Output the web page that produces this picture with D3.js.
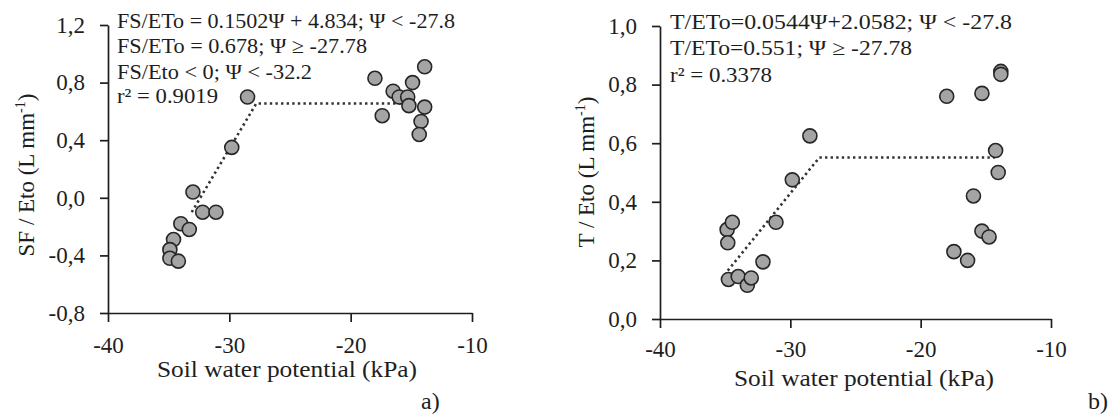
<!DOCTYPE html>
<html>
<head>
<meta charset="utf-8">
<script src="https://cdn.jsdelivr.net/npm/d3@7"></script>
<style>
  body { margin: 0; background: #fff; }
  svg text { font-family: "Liberation Serif", "Times New Roman", serif; fill: #1e1e1e; }
</style>
</head>
<body>
<svg id="chart" width="1116" height="414"></svg>
<script>
// panel a) SF / ETo
const psiA = [-28.5, -29.8, -33.0, -32.2, -31.1, -34.0, -33.3, -34.6, -34.9, -34.9, -34.2,
              -18.0, -17.4, -16.5, -16.0, -15.3, -15.2, -14.9, -13.9, -13.9, -14.2, -14.35];
const sfA  = [0.70, 0.35, 0.04, -0.10, -0.10, -0.18, -0.22, -0.29, -0.36, -0.42, -0.44,
              0.83, 0.57, 0.74, 0.70, 0.70, 0.64, 0.80, 0.91, 0.63, 0.53, 0.44];
const fitPsiA = [-33.1, -27.78, -15.7];
const fitA    = [-0.10, 0.655, 0.655];
const yTicksA = [-0.8, -0.4, 0.0, 0.4, 0.8, 1.2];
const notesA = ["FS/ETo = 0.1502\u03A8 + 4.834; \u03A8 < -27.8",
                "FS/ETo = 0.678; \u03A8 \u2265 -27.78",
                "FS/Eto < 0; \u03A8 < -32.2",
                "r\u00B2 = 0.9019"];

// panel b) T / ETo
const psiB = [-18.0, -15.3, -13.85, -13.85, -14.25, -14.05, -15.95, -15.3, -14.75, -17.45, -16.4,
              -28.5, -29.85, -31.1, -32.1, -34.85, -34.45, -34.8, -34.75, -34.0, -33.3, -33.0];
const tB   = [0.76, 0.77, 0.845, 0.835, 0.575, 0.50, 0.42, 0.30, 0.28, 0.23, 0.20,
              0.625, 0.475, 0.33, 0.195, 0.305, 0.33, 0.26, 0.135, 0.145, 0.115, 0.14];
const fitPsiB = [-34.8, -27.78, -14.3];
const fitB    = [0.165, 0.551, 0.551];
const yTicksB = [0.0, 0.2, 0.4, 0.6, 0.8, 1.0];
const notesB = ["T/ETo=0.0544\u03A8+2.0582; \u03A8 < -27.8",
                "T/ETo=0.551; \u03A8 \u2265 -27.78",
                "r\u00B2 = 0.3378"];

const xTicks = [-40, -30, -20, -10];

const svg = d3.select('#chart');
const fmt = v => d3.format('.1f')(v).replace('.', ',').replace('\u2212', '-');

function panel(opt) {
    const x = d3.scaleLinear().domain([-40, -10]).range([opt.x0, opt.x1]);
    const y = d3.scaleLinear().domain(opt.yDomain).range([opt.y0, opt.y1]);
    const g = svg.append('g');

    // fitted broken-line model
    const line = d3.line().x(d => x(d[0])).y(d => y(d[1]));
    g.append('path')
        .datum(opt.fitX.map((v, i) => [v, opt.fitY[i]]))
        .attr('d', line)
        .attr('fill', 'none')
        .attr('stroke', '#333')
        .attr('stroke-width', 2.6)
        .attr('stroke-dasharray', '2.4,3.2');

    g.selectAll('circle')
        .data(opt.px.map((v, i) => [v, opt.py[i]]))
        .enter()
        .append('circle')
        .attr('cx', d => x(d[0]))
        .attr('cy', d => y(d[1]))
        .attr('r', 7)
        .attr('fill', '#a4a4a4')
        .attr('stroke', '#262626')
        .attr('stroke-width', 1.6);

    const xAxis = g.append('g')
        .attr('transform', `translate(0,${opt.y0})`)
        .call(d3.axisBottom(x).tickValues(xTicks).tickSize(9).tickSizeOuter(0).tickPadding(14)
              .tickFormat(d => String(d)));
    const yAxis = g.append('g')
        .attr('transform', `translate(${opt.x0},0)`)
        .call(d3.axisLeft(y).tickValues(opt.yTicks).tickSize(8).tickSizeOuter(0).tickPadding(15)
              .tickFormat(fmt));
    [xAxis, yAxis].forEach(a => {
        a.selectAll('path, line').attr('stroke', '#1e1e1e').attr('stroke-width', 1.7);
        a.selectAll('text').attr('font-size', 23).attr('fill', '#1e1e1e')
            .style('font-family', '"Liberation Serif", serif');
    });
    xAxis.selectAll('text').attr('dy', null).attr('y', opt.tickBase);

    // axis titles
    g.append('text')
        .attr('x', opt.xlabX).attr('y', opt.xlabY)
        .attr('text-anchor', 'middle')
        .attr('font-size', 23)
        .attr('textLength', 260).attr('lengthAdjust', 'spacingAndGlyphs')
        .text('Soil water potential (kPa)');

    const yl = g.append('text')
        .attr('transform', `translate(${opt.ylabX},${opt.ylabY}) rotate(-90)`)
        .attr('text-anchor', 'middle')
        .attr('font-size', 23);
    yl.append('tspan').text(opt.ylab + ' (L mm');
    yl.append('tspan').attr('font-size', 14).attr('dy', -9).text('-1');
    yl.append('tspan').attr('dy', 9).text(')');

    g.selectAll('text.note')
        .data(opt.notes)
        .enter()
        .append('text')
        .attr('class', 'note')
        .attr('x', opt.noteX)
        .attr('y', (d, i) => opt.noteY[i])
        .attr('font-size', 21)
        .attr('textLength', (d, i) => opt.noteW[i])
        .attr('lengthAdjust', 'spacingAndGlyphs')
        .text(d => d);

    g.append('text')
        .attr('x', opt.tagX).attr('y', 409)
        .attr('font-size', 24)
        .text(opt.tag);
}

panel({
    x0: 108, x1: 472, y0: 313, y1: 25, yDomain: [-0.8, 1.2], yTicks: yTicksA,
    px: psiA, py: sfA, fitX: fitPsiA, fitY: fitA,
    tickBase: 40, xlabX: 287, xlabY: 377, ylabX: 34, ylabY: 175, ylab: 'SF / Eto',
    notes: notesA, noteX: 117, noteY: [28, 53, 79, 103], noteW: [338, 250, 195, 101],
    tagX: 421, tag: 'a)'
});

panel({
    x0: 660, x1: 1051, y0: 319, y1: 26, yDomain: [0, 1], yTicks: yTicksB,
    px: psiB, py: tB, fitX: fitPsiB, fitY: fitB,
    tickBase: 38, xlabX: 864, xlabY: 386, ylabX: 594, ylabY: 172, ylab: 'T / Eto',
    notes: notesB, noteX: 670, noteY: [29, 55, 82], noteW: [342, 242, 102],
    tagX: 1088, tag: 'b)'
});
</script>
</body>
</html>
